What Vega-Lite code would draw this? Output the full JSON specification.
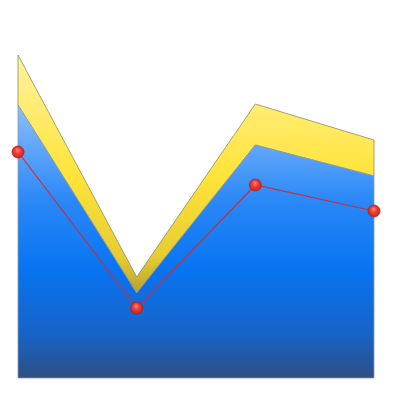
{
  "$schema": "https://vega.github.io/schema/vega-lite/v6.json",
  "width": 356,
  "height": 323,
  "autosize": {"type": "none"},
  "padding": {"left": 18, "top": 55, "right": 26, "bottom": 22},
  "background": "white",
  "config": {"view": {"stroke": null}},
  "data": {
    "values": [
      {"x": 1, "blue": 273, "yellow": 323, "red": 226},
      {"x": 2, "blue": 85, "yellow": 101, "red": 70},
      {"x": 3, "blue": 233, "yellow": 274, "red": 193},
      {"x": 4, "blue": 202, "yellow": 238, "red": 167}
    ]
  },
  "encoding": {
    "x": {"field": "x", "type": "quantitative", "axis": null,
          "scale": {"domain": [1, 4], "nice": false, "zero": false}}
  },
  "layer": [
    {
      "mark": {
        "type": "area",
        "stroke": "#8f8a60",
        "strokeWidth": 0.8,
        "color": {
          "gradient": "linear", "x1": 0, "y1": 0, "x2": 0, "y2": 1,
          "stops": [
            {"offset": 0, "color": "#fff2a0"},
            {"offset": 0.5, "color": "#ffe43a"},
            {"offset": 0.85, "color": "#e6cc30"},
            {"offset": 1, "color": "#b8a032"}
          ]
        }
      },
      "encoding": {
        "y": {"field": "yellow", "type": "quantitative", "axis": null,
              "scale": {"domain": [0, 323], "nice": false}},
        "y2": {"field": "blue"}
      }
    },
    {
      "mark": {
        "type": "area",
        "stroke": "#8a9ab0",
        "strokeWidth": 0.8,
        "color": {
          "gradient": "linear", "x1": 0, "y1": 0, "x2": 0, "y2": 1,
          "stops": [
            {"offset": 0, "color": "#8cbefa"},
            {"offset": 0.35, "color": "#2a88f8"},
            {"offset": 0.6, "color": "#0874f2"},
            {"offset": 0.85, "color": "#1862c4"},
            {"offset": 1, "color": "#2e4f82"}
          ]
        }
      },
      "encoding": {
        "y": {"field": "blue", "type": "quantitative"}
      }
    },
    {
      "mark": {"type": "line", "color": "#c8303a", "strokeWidth": 1.2},
      "encoding": {
        "y": {"field": "red", "type": "quantitative"}
      }
    },
    {
      "mark": {
        "type": "point",
        "filled": true,
        "size": 145,
        "opacity": 1,
        "stroke": "#b52020",
        "strokeWidth": 0.8,
        "fill": {
          "gradient": "radial", "x1": 0.45, "y1": 0.3, "r1": 0,
          "x2": 0.5, "y2": 0.5, "r2": 0.55,
          "stops": [
            {"offset": 0, "color": "#ff8a7a"},
            {"offset": 0.5, "color": "#ee3a30"},
            {"offset": 1, "color": "#c42020"}
          ]
        }
      },
      "encoding": {
        "y": {"field": "red", "type": "quantitative"}
      }
    }
  ]
}
